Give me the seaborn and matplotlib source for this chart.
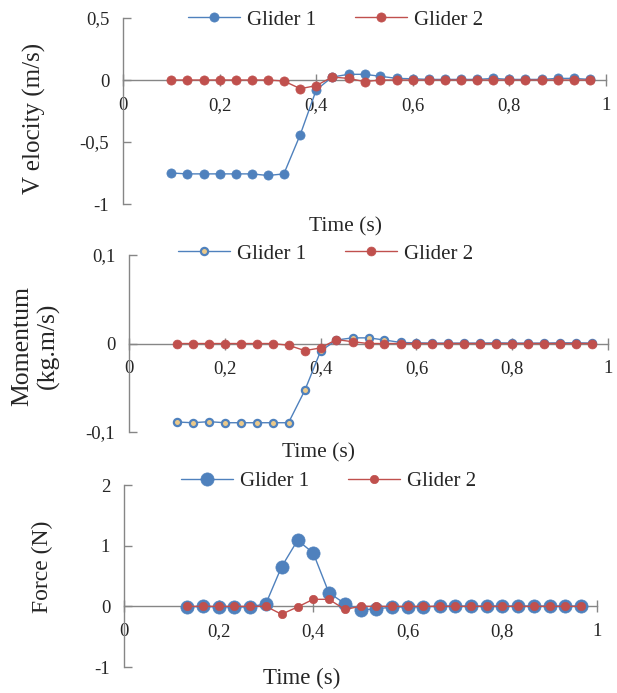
import numpy as np
import pandas as pd
import matplotlib
matplotlib.use("Agg")
import matplotlib.pyplot as plt
from matplotlib.ticker import FuncFormatter, MultipleLocator
import seaborn as sns

# ---------------- data ----------------
time_a = [0.100, 0.133, 0.167, 0.200, 0.233, 0.267, 0.300, 0.333, 0.367,
          0.400, 0.433, 0.467, 0.500, 0.533, 0.567, 0.600, 0.633, 0.667,
          0.700, 0.733, 0.767, 0.800, 0.833, 0.867, 0.900, 0.933, 0.967]
vel_g1 = [-0.750, -0.757, -0.757, -0.757, -0.757, -0.757, -0.770, -0.757, -0.440,
          -0.080, 0.024, 0.046, 0.046, 0.030, 0.013, 0.010, 0.005, 0.005,
          0.005, 0.005, 0.013, 0.005, 0.005, 0.005, 0.013, 0.013, 0.005]
vel_g2 = [0.0, 0.0, 0.0, 0.0, 0.0, 0.0, 0.0, -0.008, -0.070,
          -0.045, 0.024, 0.013, -0.013, 0.0, 0.0, 0.0, 0.0, 0.0,
          0.0, 0.0, 0.0, 0.0, 0.0, 0.0, 0.0, 0.0, 0.0]
mom_g1 = [-0.0887, -0.0895, -0.0883, -0.0895, -0.0895, -0.0895, -0.0895, -0.0895, -0.0530,
          -0.0086, 0.0040, 0.0064, 0.0064, 0.0040, 0.0012, 0.0008, 0.0005, 0.0005,
          0.0005, 0.0005, 0.0008, 0.0005, 0.0005, 0.0005, 0.0008, 0.0008, 0.0005]
mom_g2 = [0.0, 0.0, 0.0, 0.0, 0.0, 0.0, 0.0, -0.0020, -0.0080,
          -0.0050, 0.0045, 0.0020, 0.0, 0.0, 0.0, 0.0, 0.0, 0.0,
          0.0, 0.0, 0.0, 0.0, 0.0, 0.0, 0.0, 0.0, 0.0]
time_f = [0.133, 0.167, 0.200, 0.233, 0.267, 0.300, 0.333, 0.367, 0.400,
          0.433, 0.467, 0.500, 0.533, 0.567, 0.600, 0.633, 0.667, 0.700,
          0.733, 0.767, 0.800, 0.833, 0.867, 0.900, 0.933, 0.967]
force_g1 = [-0.010, 0.0, -0.010, -0.010, -0.010, 0.044, 0.650, 1.090, 0.880,
            0.226, 0.044, -0.055, -0.044, -0.010, -0.010, -0.010, 0.005, 0.005,
            0.005, 0.005, 0.005, 0.005, 0.005, 0.005, 0.005, 0.005]
force_g2 = [0.0, 0.0, 0.0, 0.0, 0.0, 0.0, -0.130, -0.010, 0.116,
            0.116, -0.050, 0.0, 0.0, 0.0, 0.0, 0.0, 0.0, 0.0,
            0.0, 0.0, 0.0, 0.0, 0.0, 0.0, 0.0, 0.0]
series_names = ["Glider 1", "Glider 2"]
x_ticks = [0, 0.2, 0.4, 0.6, 0.8, 1.0]

# ---------------- style ----------------
sns.set_style("white")
plt.rcParams["font.family"] = ["Liberation Serif", "DejaVu Serif"]
plt.rcParams["axes.unicode_minus"] = False

BLUE = "#4F81BD"
RED = "#C0504D"
TAN = "#EBC98A"
GRAY = "#868686"
TICK_FS = 13.5
LEG_FS = 15

def comma_fmt(v, pos):
    if abs(v) < 1e-12:
        return "0"
    return ("%g" % round(v, 6)).replace(".", ",")

fig = plt.figure(figsize=(6.17, 6.93), dpi=100)

panels = [
    dict(rect=[0.1994, 0.7056, 0.7828, 0.2684], ylim=(-1, 0.5), ystep=0.5,
         ylabel="V elocity (m/s)", ylab_fs=18, ylab_ls=1.0, ylab_xy=(-0.16, 0.46),
         xlab_fs=15.5, xlab_xy=(0.46, -0.07), legend_xy=(0.44, 0.99)),
    dict(rect=[0.2091, 0.3766, 0.7763, 0.2554], ylim=(-0.1, 0.1), ystep=0.1,
         ylabel="Momentum\n(kg.m/s)", ylab_fs=18.5, ylab_ls=1.2, ylab_xy=(-0.145, 0.486),
         xlab_fs=15.5, xlab_xy=(0.395, -0.062), legend_xy=(0.41, 1.006)),
    dict(rect=[0.2010, 0.0375, 0.7666, 0.2626], ylim=(-1, 2), ystep=1,
         ylabel="Force (N)", ylab_fs=17, ylab_ls=1.0, ylab_xy=(-0.15, 0.55),
         xlab_fs=16.5, xlab_xy=(0.376, -0.005), legend_xy=(0.433, 1.02)),
]

data_sets = [
    (time_a, vel_g1, vel_g2),
    (time_a, mom_g1, mom_g2),
    (time_f, force_g1, force_g2),
]

marker_styles = [
    (dict(markersize=6.6, markerfacecolor=BLUE, markeredgecolor=BLUE, markeredgewidth=0.5),
     dict(markersize=6.6, markerfacecolor=RED, markeredgecolor=RED, markeredgewidth=0.5)),
    (dict(markersize=5.2, markerfacecolor=TAN, markeredgecolor=BLUE, markeredgewidth=1.6),
     dict(markersize=6.4, markerfacecolor=RED, markeredgecolor=RED, markeredgewidth=0.5)),
    (dict(markersize=9.5, markerfacecolor=BLUE, markeredgecolor=BLUE, markeredgewidth=0.5),
     dict(markersize=6.0, markerfacecolor=RED, markeredgecolor=RED, markeredgewidth=0.5)),
]

for p, (tt, g1, g2), (ms1, ms2) in zip(panels, data_sets, marker_styles):
    ax = fig.add_axes(p["rect"])
    df = pd.DataFrame({"t": tt, "g1": g1, "g2": g2})
    sns.lineplot(data=df, x="t", y="g1", ax=ax, color=BLUE, lw=1.0,
                 marker="o", label=series_names[0], **ms1)
    sns.lineplot(data=df, x="t", y="g2", ax=ax, color=RED, lw=1.0,
                 marker="o", label=series_names[1], **ms2)

    ax.set_xlim(0, 1)
    ax.set_ylim(*p["ylim"])
    ax.set_xticks(x_ticks)
    ax.yaxis.set_major_locator(MultipleLocator(p["ystep"]))
    ax.xaxis.set_major_formatter(FuncFormatter(comma_fmt))
    ax.yaxis.set_major_formatter(FuncFormatter(comma_fmt))

    for s in ["top", "right"]:
        ax.spines[s].set_visible(False)
    ax.spines["bottom"].set_position(("data", 0))
    ax.spines["left"].set_position(("data", 0))
    for s in ["bottom", "left"]:
        ax.spines[s].set_color(GRAY)
        ax.spines[s].set_linewidth(1.0)
        ax.spines[s].set_zorder(1)

    ax.tick_params(axis="x", direction="inout", length=8, width=1.0, color=GRAY,
                   labelsize=TICK_FS, pad=8, bottom=True)
    ax.tick_params(axis="y", direction="in", length=6, width=1.0, color=GRAY,
                   labelsize=TICK_FS, pad=10, left=True)

    ax.set_xlabel("Time (s)", fontsize=p["xlab_fs"])
    ax.xaxis.set_label_coords(*p["xlab_xy"])
    ax.set_ylabel(p["ylabel"], fontsize=p["ylab_fs"], linespacing=p["ylab_ls"])
    ax.yaxis.set_label_coords(*p["ylab_xy"])

    ax.legend(loc="center", bbox_to_anchor=p["legend_xy"], ncol=2, frameon=False,
              fontsize=LEG_FS, handlelength=2.5, columnspacing=1.85,
              handletextpad=0.35, borderaxespad=0, borderpad=0)
    ax.patch.set_alpha(0)

fig.savefig("out.png", dpi=100)
